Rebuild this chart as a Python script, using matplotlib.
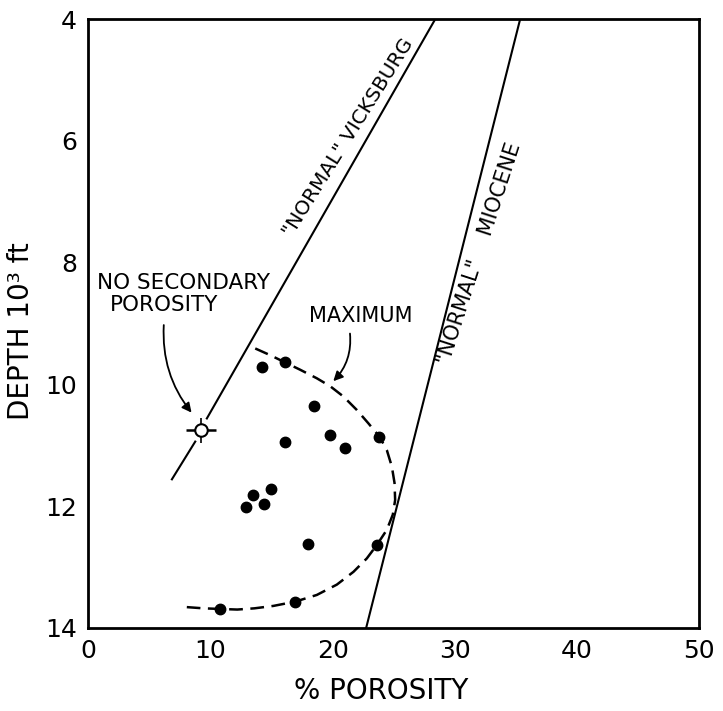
import matplotlib

matplotlib.use("Agg")
import matplotlib.pyplot as plt

plt.rcParams["font.family"] = ["DejaVu Sans"]

# sample points (porosity %, depth 10^3 ft)
sample_porosity = [14.2, 16.1, 18.5, 19.8, 21.0, 16.1, 23.8, 15.0, 13.5, 14.4, 12.9, 18.0, 23.6, 16.9, 10.8]
sample_depth = [9.71, 9.64, 10.35, 10.83, 11.04, 10.95, 10.86, 11.72, 11.81, 11.96, 12.02, 12.62, 12.64, 13.57, 13.69]

# no secondary porosity point
open_porosity = [9.25]
open_depth = [10.75]

# "normal" trends, Vicksburg drawn in two pieces around the open point
vicksburg_low_x = [6.85, 8.76]
vicksburg_low_y = [11.56, 10.94]
vicksburg_high_x = [9.71, 28.4]
vicksburg_high_y = [10.56, 4.0]
miocene_x = [22.75, 35.35]
miocene_y = [14.0, 4.0]

# maximum envelope (dashed)
max_x = [13.67, 14.89, 16.12, 17.35, 18.71, 19.80, 20.89, 21.98, 22.93, 23.84, 24.44, 24.85,
         25.07, 25.12, 24.93, 24.44, 23.62, 22.80, 21.71, 20.35, 18.71, 16.94, 15.16, 13.60,
         12.20, 10.80, 9.44, 8.07]
max_y = [9.41, 9.52, 9.64, 9.76, 9.90, 10.03, 10.20, 10.42, 10.64, 10.86, 11.08, 11.35,
         11.62, 11.90, 12.14, 12.39, 12.64, 12.86, 13.08, 13.29, 13.46, 13.57, 13.64, 13.68,
         13.70, 13.69, 13.68, 13.66]

x_ticks = [0, 10, 20, 30, 40, 50]
y_ticks = [4, 6, 8, 10, 12, 14]


def main() -> None:
    fig = plt.figure(figsize=(7.23, 7.11), dpi=100)
    ax = fig.add_axes([0.122, 0.117, 0.845, 0.856])

    ax.plot(vicksburg_low_x, vicksburg_low_y, color="black", lw=1.5)
    ax.plot(vicksburg_high_x, vicksburg_high_y, color="black", lw=1.5)
    ax.plot(miocene_x, miocene_y, color="black", lw=1.5)
    ax.plot(max_x, max_y, color="black", lw=1.8, linestyle=(0, (5.5, 3)))

    ax.plot(sample_porosity, sample_depth, "o", color="black", ms=7.5, zorder=4)

    # open point with crosshair
    ax.plot(open_porosity, open_depth, "_", color="black", ms=21, mew=1.8, zorder=4)
    ax.plot(open_porosity, open_depth, "|", color="black", ms=18, mew=1.2, zorder=4)
    ax.plot(open_porosity, open_depth, "o", mfc="white", mec="black", ms=9, mew=1.5, zorder=5)

    ax.set_xlim(0, 50)
    ax.set_ylim(14, 4)
    ax.set_xticks(x_ticks)
    ax.set_yticks(y_ticks)
    ax.tick_params(length=0, labelsize=18, pad=8)
    for spine in ax.spines.values():
        spine.set_linewidth(2.0)

    ax.set_xlabel("% POROSITY", fontsize=20)
    ax.xaxis.set_label_coords(0.48, -0.08)
    ax.set_ylabel("DEPTH 10³ ft", fontsize=20)
    ax.yaxis.set_label_coords(-0.087, 0.488)

    ax.text(21.3, 5.95, '"NORMAL" VICKSBURG', fontsize=14.5, rotation=58,
            ha="center", va="center", rotation_mode="anchor")
    ax.text(32.0, 7.85, '"NORMAL"    MIOCENE', fontsize=15, rotation=72,
            ha="center", va="center", rotation_mode="anchor")
    ax.text(0.7, 8.33, "NO SECONDARY", fontsize=15.5, ha="left", va="center")
    ax.text(1.8, 8.70, "POROSITY", fontsize=15.5, ha="left", va="center")
    ax.text(22.3, 8.88, "MAXIMUM", fontsize=15, ha="center", va="center")

    ax.annotate("", xy=(8.6, 10.5), xytext=(6.2, 8.98),
                arrowprops=dict(arrowstyle="-|>", color="black", lw=1.3,
                                connectionstyle="arc3,rad=0.2", mutation_scale=14))
    ax.annotate("", xy=(19.9, 9.98), xytext=(21.4, 9.12),
                arrowprops=dict(arrowstyle="-|>", color="black", lw=1.3,
                                connectionstyle="arc3,rad=-0.25", mutation_scale=14))

    fig.savefig("out.png", dpi=100)
    plt.close(fig)


if __name__ == "__main__":
    main()
